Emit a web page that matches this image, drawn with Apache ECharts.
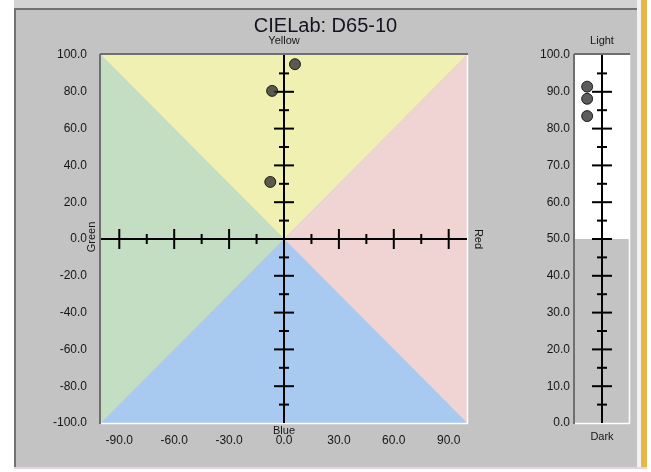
<!DOCTYPE html>
<html><head><meta charset="utf-8">
<script src="https://cdn.jsdelivr.net/npm/echarts@6/dist/echarts.min.js"></script>
<style>html,body{margin:0;padding:0;background:#fff}#c{width:651px;height:472px}</style>
</head><body><div id="c"></div>
<script>
const titleText = 'CIELab: D65-10';
const aRange = [-100, 100];
const bRange = [-100, 100];
const LRange = [0, 100];
const aLabelValues = [-90, -60, -30, 0, 30, 60, 90];
const bLabelInterval = 20;
const LLabelInterval = 10;
const aMajorTicks = [-90, -60, -30, 30, 60, 90];
const aMinorTicks = [-75, -45, -15, 15, 45, 75];
const bMajorTicks = [-80, -60, -40, -20, 20, 40, 60, 80];
const bMinorTicks = [-90, -70, -50, -30, -10, 10, 30, 50, 70, 90];
const LMajorTicks = [10, 20, 30, 40, 50, 60, 70, 80, 90];
const LMinorTicks = [5, 15, 25, 35, 45, 55, 65, 75, 85, 95];
const LSplit = 50;
const sampleA = [6.0, -6.5, -7.5];
const sampleB = [95.0, 80.5, 31.0];
const sampleL = [91.4, 88.1, 83.4];
const sampleLOffset = -0.55;
const hueNames = ['Yellow', 'Red', 'Blue', 'Green'];
const lightNames = ['Light', 'Dark'];

const FONT = "'Liberation Sans', Arial, sans-serif";
const hueColors = { Yellow: '#f0f0b3', Red: '#f0d3d3', Blue: '#a9caf0', Green: '#c3dec3' };
const TXT = '#161616';

function line(p, q, stroke, w) {
  return { type: 'line', shape: { x1: p[0], y1: p[1], x2: q[0], y2: q[1] }, style: { stroke: stroke, lineWidth: w } };
}
function txt(x, y, text, rot, size) {
  return { type: 'text', x: x, y: y, rotation: rot || 0,
    style: { text: text, fill: TXT, font: (size || 12) + 'px ' + FONT,
      align: 'center', verticalAlign: 'middle', textAlign: 'center', textVerticalAlign: 'middle' } };
}

function renderMain(params, api) {
  const c = (x, y) => api.coord([x, y]);
  const [a0, a1] = aRange, [b0, b1] = bRange;
  const ctr = c(0, 0);
  const tl = c(a0, b1), tr = c(a1, b1), bl = c(a0, b0), br = c(a1, b0);
  const ch = [];
  const tri = (p, q, fill) => ch.push({ type: 'polygon', shape: { points: [p, q, ctr] }, style: { fill: fill } });
  tri(tl, tr, hueColors[hueNames[0]]);
  tri(tr, br, hueColors[hueNames[1]]);
  tri(br, bl, hueColors[hueNames[2]]);
  tri(bl, tl, hueColors[hueNames[3]]);
  ch.push(line([tl[0] - 1, tl[1] - 1], [tr[0] + 1, tr[1] - 1], '#6f6f6f', 2));
  ch.push(line([tl[0] - 1, tl[1] - 1], [bl[0] - 1, bl[1] + 1], '#6f6f6f', 2));
  ch.push(line([tr[0] + 0.5, tr[1]], [br[0] + 0.5, br[1] + 1], '#ffffff', 1.5));
  ch.push(line([bl[0], bl[1] + 0.5], [br[0] + 1, br[1] + 0.5], '#ffffff', 1.5));
  ch.push(line(c(a0, 0), c(a1, 0), '#000', 2));
  ch.push(line(c(0, b0), c(0, b1), '#000', 2));
  aMajorTicks.forEach(v => { const p = c(v, 0); ch.push(line([p[0], p[1] - 10], [p[0], p[1] + 10], '#000', 2)); });
  aMinorTicks.forEach(v => { const p = c(v, 0); ch.push(line([p[0], p[1] - 5], [p[0], p[1] + 5], '#000', 2)); });
  bMajorTicks.forEach(v => { const p = c(0, v); ch.push(line([p[0] - 10, p[1]], [p[0] + 10, p[1]], '#000', 2)); });
  bMinorTicks.forEach(v => { const p = c(0, v); ch.push(line([p[0] - 5, p[1]], [p[0] + 5, p[1]], '#000', 2)); });
  const top = c(0, b1), bot = c(0, b0), rgt = c(a1, 0), lft = c(a0, 0);
  ch.push(txt(top[0], top[1] - 14, hueNames[0], 0, 11));
  ch.push(txt(rgt[0] + 11, rgt[1], hueNames[1], -Math.PI / 2, 11));
  ch.push(txt(bot[0], bot[1] + 8, hueNames[2], 0, 11));
  ch.push(txt(lft[0] - 9, lft[1] - 2, hueNames[3], Math.PI / 2, 11));
  return { type: 'group', children: ch };
}

function renderL(params, api) {
  const c = (x, y) => api.coord([x, y]);
  const tl = c(-1, LRange[1]), tr = c(1, LRange[1]), bl = c(-1, LRange[0]), br = c(1, LRange[0]);
  const sl = c(-1, LSplit);
  const ch = [];
  ch.push({ type: 'rect', shape: { x: tl[0], y: tl[1], width: tr[0] - tl[0], height: sl[1] - tl[1] }, style: { fill: '#ffffff' } });
  ch.push(line([tl[0] - 1, tl[1] - 1], [tr[0] + 1, tr[1] - 1], '#6f6f6f', 2));
  ch.push(line([tl[0] - 1, tl[1] - 1], [bl[0] - 1, bl[1] + 1], '#6f6f6f', 2));
  ch.push(line([tr[0] + 0.5, tr[1]], [br[0] + 0.5, br[1] + 1], '#ffffff', 1.5));
  ch.push(line([bl[0], bl[1] + 0.5], [br[0] + 1, br[1] + 0.5], '#ffffff', 1.5));
  ch.push(line(c(0, LRange[0]), c(0, LRange[1]), '#000', 2));
  LMajorTicks.forEach(v => { const p = c(0, v); ch.push(line([p[0] - 10, p[1]], [p[0] + 10, p[1]], '#000', 2)); });
  LMinorTicks.forEach(v => { const p = c(0, v); ch.push(line([p[0] - 5, p[1]], [p[0] + 5, p[1]], '#000', 2)); });
  const top = c(0, LRange[1]), bot = c(0, LRange[0]);
  ch.push(txt(top[0], top[1] - 14, lightNames[0], 0, 11));
  ch.push(txt(bot[0], bot[1] + 14, lightNames[1], 0, 11));
  return { type: 'group', children: ch };
}

const fmt = v => v.toFixed(1);
const labelStyle = { color: TXT, fontSize: 12, fontFamily: FONT, formatter: fmt };
const pointStyle = { color: '#333333', borderColor: '#000000', borderWidth: 1 };

const chart = echarts.init(document.getElementById('c'), null, { renderer: 'canvas' });
chart.setOption({
  animation: false,
  backgroundColor: '#ffffff',
  title: { text: titleText, left: 'center', top: 11,
    textStyle: { fontFamily: FONT, fontSize: 20, fontWeight: 'normal', color: '#141420' } },
  graphic: [
    { type: 'rect', z: -10, shape: { x: 14, y: 0, width: 623, height: 8 }, style: { fill: '#d3d3d3' } },
    { type: 'rect', z: -10, shape: { x: 14, y: 8, width: 623, height: 459 }, style: { fill: '#c3c3c3' } },
    { type: 'rect', z: -9, shape: { x: 14, y: 8, width: 623, height: 2 }, style: { fill: '#727272' } },
    { type: 'rect', z: -9, shape: { x: 14, y: 8, width: 2, height: 459 }, style: { fill: '#727272' } },
    { type: 'rect', z: -9, shape: { x: 637, y: 0, width: 4, height: 468 }, style: { fill: '#f2f2f2' } },
    { type: 'rect', z: -9, shape: { x: 641, y: 0, width: 6, height: 468 }, style: { fill: '#e7b74a' } },
    { type: 'rect', z: -9, shape: { x: 14, y: 467, width: 633, height: 2 }, style: { fill: '#eed3d6' } }
  ],
  grid: [
    { left: 101, top: 55, width: 366, height: 368 },
    { left: 575, top: 55, width: 54, height: 368 }
  ],
  xAxis: [
    { type: 'value', gridIndex: 0, min: aRange[0], max: aRange[1], interval: 10,
      axisLine: { show: false }, axisTick: { show: false }, splitLine: { show: false },
      axisLabel: Object.assign({ margin: 12, customValues: aLabelValues }, labelStyle) },
    { type: 'value', gridIndex: 1, min: -1, max: 1, show: false }
  ],
  yAxis: [
    { type: 'value', gridIndex: 0, min: bRange[0], max: bRange[1], interval: bLabelInterval,
      axisLine: { show: false }, axisTick: { show: false }, splitLine: { show: false },
      axisLabel: Object.assign({ margin: 14 }, labelStyle) },
    { type: 'value', gridIndex: 1, min: LRange[0], max: LRange[1], interval: LLabelInterval,
      axisLine: { show: false }, axisTick: { show: false }, splitLine: { show: false },
      axisLabel: Object.assign({ margin: 5 }, labelStyle) }
  ],
  series: [
    { type: 'custom', xAxisIndex: 0, yAxisIndex: 0, z: 1, silent: true, clip: false,
      renderItem: renderMain, data: [[0, 0]] },
    { type: 'custom', xAxisIndex: 1, yAxisIndex: 1, z: 1, silent: true, clip: false,
      renderItem: renderL, data: [[0, 50]] },
    { type: 'scatter', xAxisIndex: 0, yAxisIndex: 0, z: 5, symbol: 'circle', symbolSize: 11,
      itemStyle: pointStyle, data: sampleA.map((a, i) => [a, sampleB[i]]) },
    { type: 'scatter', xAxisIndex: 1, yAxisIndex: 1, z: 5, symbol: 'circle', symbolSize: 11,
      itemStyle: pointStyle, data: sampleL.map(v => [sampleLOffset, v]) }
  ]
});
</script></body></html>
